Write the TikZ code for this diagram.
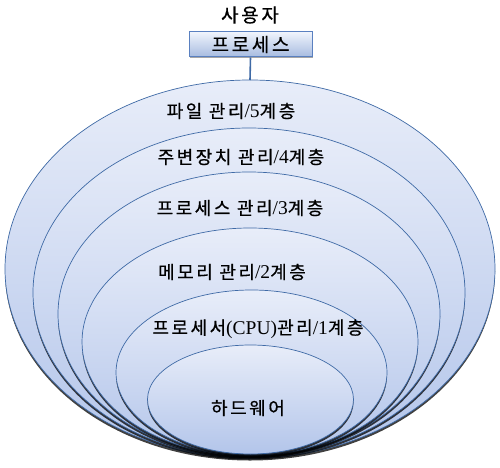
\documentclass[tikz,border=0pt]{standalone}
\usepackage{fontspec}
\setmainfont{Liberation Serif}
\newfontfamily\kr[LetterSpace=14,FakeBold=0.6]{Noto Sans CJK KR}
\usetikzlibrary{shapes.geometric,shadows}
\definecolor{edgeblue}{HTML}{3F6AA6}
\definecolor{filltop}{HTML}{E8EDF9}
\definecolor{fillbot}{HTML}{B3C5EA}
\definecolor{boxtop}{HTML}{F0F4FC}
\definecolor{boxbot}{HTML}{A6BBE0}
\definecolor{boxedge}{HTML}{5A80C0}
\newcommand\K[1]{{\kr #1}}
\newcommand\Lt[1]{{\fontsize{19.5}{21}\selectfont #1}}
\begin{document}
\begin{tikzpicture}[x=1pt,y=1pt,
  layer/.style={ellipse, draw=edgeblue, line width=0.7pt, inner sep=0pt, outer sep=0pt,
    top color=filltop, bottom color=fillbot,
    drop shadow={shadow xshift=0pt, shadow yshift=-2.5pt, opacity=0.75, fill=black}},
  lbl/.style={font=\fontsize{18}{21}\selectfont, text=black, inner sep=0pt},
  big/.style={font=\fontsize{19}{22}\selectfont, text=black, inner sep=0pt},
  topbox/.style={draw=boxedge, line width=1pt, top color=boxtop, bottom color=boxbot,
    minimum width=123pt, minimum height=25pt, inner sep=0pt,
    drop shadow={shadow xshift=1pt, shadow yshift=-1.5pt, opacity=0.35, fill=black}}]
\useasboundingbox (0,0) rectangle (500,467);
\fill[white] (0,0) rectangle (500,467);
% layers, outer to inner
\node[layer, minimum width=490pt, minimum height=378pt] (e5) at (250,198) {};
\node[layer, minimum width=432pt, minimum height=329pt] (e4) at (249,174.5) {};
\node[layer, minimum width=382pt, minimum height=284pt] (e3) at (249,153) {};
\node[layer, minimum width=336pt, minimum height=227.5pt] (e2) at (250,125.25) {};
\node[layer, minimum width=271pt, minimum height=165pt] (e1) at (251.5,94.5) {};
\node[layer, minimum width=206pt, minimum height=109pt] (e0) at (250.5,67.5) {};
% top box
\node[topbox] (box) at (250.5,422.5) {};
\node[big] (boxt) at (box.center) {\K{프로세스}};
\node[big] (user) at (250,452) {\K{사용자}};
\draw[edgeblue, line width=1.6pt] (box.south) -- (e5.north);
% labels
\node[lbl] (t5) at (231,356) {\K{파일 관리}\Lt{/5}\K{계층}};
\node[lbl] (t4) at (241,310) {\K{주변장치 관리}\Lt{/4}\K{계층}};
\node[lbl] (t3) at (240,259) {\K{프로세스 관리}\Lt{/3}\K{계층}};
\node[lbl] (t2) at (232,195) {\K{메모리 관리}\Lt{/2}\K{계층}};
\node[lbl] (t1) at (258,138) {\K{프로세서}\Lt{(CPU)}\K{관리}\Lt{/1}\K{계층}};
\node[lbl] (t0) at (248,59) {\K{하드웨어}};
\end{tikzpicture}
\end{document}
